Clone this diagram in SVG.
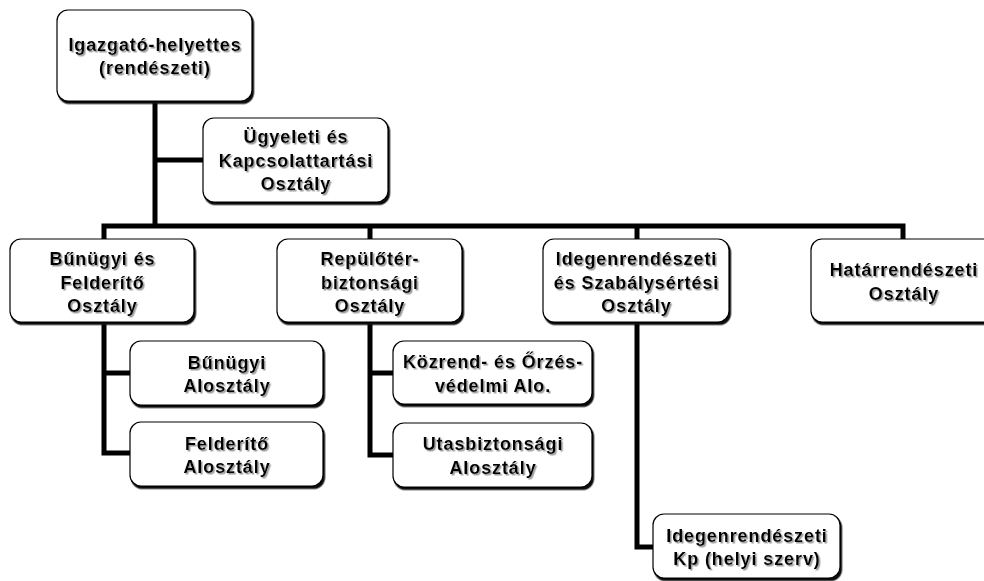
<svg xmlns="http://www.w3.org/2000/svg" width="984" height="581" viewBox="0 0 984 581">
<defs>
<filter id="bs" x="-5%" y="-5%" width="115%" height="120%">
<feDropShadow dx="1.5" dy="2.5" stdDeviation="0.4" flood-color="#111" flood-opacity="1"/>
</filter>
<filter id="ts" x="-5%" y="-10%" width="115%" height="130%">
<feDropShadow dx="1.5" dy="1.5" stdDeviation="0" flood-color="#9a9a9a" flood-opacity="1"/>
</filter>
</defs>
<style>
.box{fill:#fff;stroke:#000;stroke-width:1.2;filter:url(#bs)}
.t{font-family:"Liberation Sans",Arial,sans-serif;font-weight:bold;font-size:18px;letter-spacing:0.9px;text-anchor:middle;fill:#000;filter:url(#ts)}
.c{fill:none;stroke:#000;stroke-width:5;stroke-linejoin:miter}
</style>
<rect width="984" height="581" fill="#fff"/>
<g id="connectors">
<path class="c" d="M155 101 V226"/>
<path class="c" d="M155 160 H203"/>
<path class="c" d="M104 239 V226 H903 V239"/>
<path class="c" d="M370 226 V239"/>
<path class="c" d="M637 226 V239"/>
<path class="c" d="M104 322 V453 H130 M104 373 H130"/>
<path class="c" d="M370 322 V455 H393 M370 373 H393"/>
<path class="c" d="M637 322 V547 H653"/>
</g>
<g id="n1"><rect class="box" x="57" y="10" width="195" height="91" rx="11"/>
<text class="t" x="155" y="50.5">Igazgató-helyettes</text><text class="t" x="155" y="74">(rendészeti)</text></g>
<g id="n2"><rect class="box" x="203" y="118" width="185" height="84" rx="11"/>
<text class="t" x="296" y="143">Ügyeleti és</text><text class="t" x="296" y="166.5">Kapcsolattartási</text><text class="t" x="296" y="190">Osztály</text></g>
<g id="n3"><rect class="box" x="10" y="239" width="184" height="83" rx="11"/>
<text class="t" x="102.5" y="265">Bűnügyi és</text><text class="t" x="102.5" y="288.5">Felderítő</text><text class="t" x="102.5" y="312">Osztály</text></g>
<g id="n4"><rect class="box" x="277" y="239" width="185" height="83" rx="11"/>
<text class="t" x="370" y="265">Repülőtér-</text><text class="t" x="370" y="288.5">biztonsági</text><text class="t" x="370" y="312">Osztály</text></g>
<g id="n5"><rect class="box" x="543" y="239" width="186" height="83" rx="11"/>
<text class="t" x="636.5" y="265">Idegenrendészeti</text><text class="t" x="636.5" y="288.5">és Szabálysértési</text><text class="t" x="636.5" y="312">Osztály</text></g>
<g id="n6"><rect class="box" x="811" y="239" width="185" height="83" rx="11"/>
<text class="t" x="904" y="276">Határrendészeti</text><text class="t" x="904" y="299.5">Osztály</text></g>
<g id="n7"><rect class="box" x="130" y="341" width="193" height="64" rx="11"/>
<text class="t" x="227" y="368.5">Bűnügyi</text><text class="t" x="227" y="392">Alosztály</text></g>
<g id="n8"><rect class="box" x="130" y="422" width="193" height="64" rx="11"/>
<text class="t" x="227" y="449.5">Felderítő</text><text class="t" x="227" y="473">Alosztály</text></g>
<g id="n9"><rect class="box" x="393" y="341" width="199" height="63" rx="11"/>
<text class="t" x="493" y="368">Közrend- és Őrzés-</text><text class="t" x="493" y="391.5">védelmi Alo.</text></g>
<g id="n10"><rect class="box" x="393" y="423" width="199" height="64" rx="11"/>
<text class="t" x="493" y="450">Utasbiztonsági</text><text class="t" x="493" y="473.5">Alosztály</text></g>
<g id="n11"><rect class="box" x="653" y="514" width="187" height="64" rx="11"/>
<text class="t" x="747" y="541.5">Idegenrendészeti</text><text class="t" x="747" y="565">Kp (helyi szerv)</text></g>
</svg>
